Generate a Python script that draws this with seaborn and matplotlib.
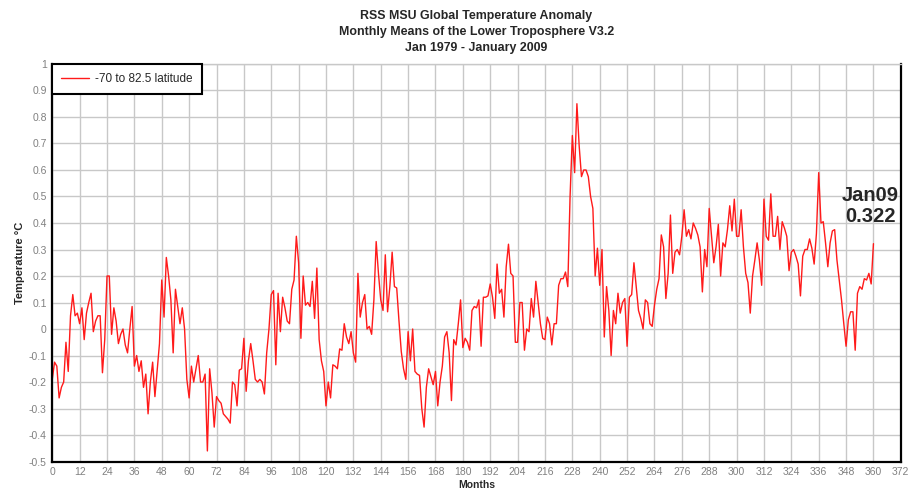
import numpy as np
import pandas as pd
import matplotlib
matplotlib.use('Agg')
from matplotlib import pyplot as plt
import seaborn as sns

sns.set_style('white', {'axes.grid': True})
plt.rcParams['font.family'] = ['Liberation Sans', 'DejaVu Sans']

# monthly anomalies (deg C), Jan 1979 .. Jan 2009, one row per year
t1979 = [-0.19, -0.125, -0.14, -0.26, -0.22, -0.2, -0.05, -0.16, 0.05, 0.13, 0.05, 0.06]
t1980 = [0.02, 0.08, -0.04, 0.06, 0.10, 0.135, -0.01, 0.03, 0.05, 0.05, -0.165, -0.04]
t1981 = [0.2, 0.2, -0.02, 0.08, 0.03, -0.055, -0.02, 0.0, -0.06, -0.09, 0.0, 0.085]
t1982 = [-0.14, -0.1, -0.16, -0.12, -0.22, -0.17, -0.32, -0.2, -0.125, -0.255, -0.155, -0.055]
t1983 = [0.185, 0.045, 0.27, 0.2, 0.11, -0.09, 0.15, 0.085, 0.02, 0.08, 0.0, -0.19]
t1984 = [-0.26, -0.14, -0.2, -0.15, -0.1, -0.2, -0.2, -0.17, -0.46, -0.15, -0.24, -0.37]
t1985 = [-0.255, -0.27, -0.28, -0.32, -0.33, -0.34, -0.355, -0.2, -0.21, -0.29, -0.155, -0.15]
t1986 = [-0.035, -0.235, -0.12, -0.055, -0.12, -0.19, -0.2, -0.19, -0.2, -0.245, -0.09, 0.0]
t1987 = [0.13, 0.145, -0.135, 0.135, -0.01, 0.12, 0.08, 0.03, 0.02, 0.15, 0.185, 0.35]
t1988 = [0.25, -0.035, 0.2, 0.09, 0.1, 0.085, 0.18, 0.04, 0.23, -0.04, -0.12, -0.16]
t1989 = [-0.29, -0.2, -0.26, -0.135, -0.14, -0.15, -0.075, -0.08, 0.02, -0.03, -0.055, -0.01]
t1990 = [-0.09, -0.125, 0.21, 0.045, 0.1, 0.13, 0.0, 0.01, -0.02, 0.11, 0.33, 0.21]
t1991 = [0.11, 0.07, 0.28, 0.065, 0.16, 0.29, 0.16, 0.155, 0.03, -0.085, -0.15, -0.19]
t1992 = [-0.01, -0.12, 0.0, -0.16, -0.17, -0.175, -0.3, -0.37, -0.22, -0.15, -0.18, -0.21]
t1993 = [-0.16, -0.29, -0.2, -0.14, -0.03, -0.01, -0.09, -0.27, -0.04, -0.06, 0.02, 0.11]
t1994 = [-0.07, -0.035, -0.05, -0.08, 0.07, 0.085, 0.08, 0.11, -0.065, 0.12, 0.12, 0.125]
t1995 = [0.17, 0.12, 0.04, 0.245, 0.135, 0.15, 0.045, 0.235, 0.32, 0.21, 0.2, -0.05]
t1996 = [-0.05, 0.1, 0.1, -0.08, 0.0, -0.01, 0.115, 0.045, 0.18, 0.1, 0.02, -0.035]
t1997 = [-0.04, 0.045, 0.02, -0.06, 0.02, 0.02, 0.165, 0.19, 0.19, 0.215, 0.16, 0.5]
t1998 = [0.73, 0.59, 0.85, 0.69, 0.575, 0.6, 0.6, 0.575, 0.5, 0.455, 0.2, 0.305]
t1999 = [0.165, 0.3, -0.03, 0.16, 0.07, -0.1, 0.07, 0.02, 0.135, 0.06, 0.1, 0.115]
t2000 = [-0.065, 0.12, 0.13, 0.25, 0.16, 0.07, 0.04, 0.0, 0.11, 0.1, 0.02, 0.01]
t2001 = [0.09, 0.15, 0.19, 0.355, 0.31, 0.115, 0.21, 0.43, 0.21, 0.29, 0.3, 0.28]
t2002 = [0.35, 0.45, 0.35, 0.375, 0.34, 0.4, 0.38, 0.355, 0.31, 0.14, 0.3, 0.235]
t2003 = [0.455, 0.35, 0.25, 0.31, 0.395, 0.2, 0.325, 0.31, 0.375, 0.465, 0.37, 0.49]
t2004 = [0.35, 0.35, 0.45, 0.31, 0.21, 0.175, 0.06, 0.2, 0.26, 0.325, 0.26, 0.165]
t2005 = [0.49, 0.35, 0.335, 0.51, 0.35, 0.35, 0.425, 0.3, 0.405, 0.38, 0.35, 0.22]
t2006 = [0.29, 0.3, 0.275, 0.245, 0.125, 0.275, 0.3, 0.3, 0.34, 0.305, 0.245, 0.36]
t2007 = [0.59, 0.4, 0.405, 0.325, 0.235, 0.325, 0.37, 0.375, 0.26, 0.185, 0.11, 0.02]
t2008 = [-0.065, 0.035, 0.065, 0.065, -0.08, 0.135, 0.16, 0.15, 0.19, 0.185, 0.21, 0.17]
t2009 = [0.322]

years = [t1979, t1980, t1981, t1982, t1983, t1984, t1985, t1986, t1987, t1988,
         t1989, t1990, t1991, t1992, t1993, t1994, t1995, t1996, t1997, t1998,
         t1999, t2000, t2001, t2002, t2003, t2004, t2005, t2006, t2007, t2008, t2009]
temps = [v for yr in years for v in yr]

x_ticks = list(range(0, 373, 12))
y_ticks = [-0.5, -0.4, -0.3, -0.2, -0.1, 0, 0.1, 0.2, 0.3, 0.4, 0.5, 0.6, 0.7, 0.8, 0.9, 1]
y_labels = ['-0.5', '-0.4', '-0.3', '-0.2', '-0.1', '0', '0.1', '0.2', '0.3', '0.4', '0.5',
            '0.6', '0.7', '0.8', '0.9', '1']
series_name = '-70 to 82.5 latitude'
title = 'RSS MSU Global Temperature Anomaly\nMonthly Means of the Lower Troposphere V3.2\nJan 1979 - January 2009'
last_note = 'Jan09\n0.322'

df = pd.DataFrame({'Months': np.arange(len(temps)), 'Temperature': temps})

fig = plt.figure(figsize=(9.09, 4.91), dpi=100)
ax = fig.add_axes([0.0575, 0.060, 0.9335, 0.8097])

sns.lineplot(data=df, x='Months', y='Temperature', color='#ff1a1a', linewidth=1.0,
             label=series_name, ax=ax)

ax.set_xlim(0, 372)
ax.set_ylim(-0.5, 1.0)
ax.set_xticks(x_ticks)
ax.set_yticks(y_ticks)
ax.set_yticklabels(y_labels)
ax.grid(True, color='#c8c8c8', linewidth=1.0)
ax.tick_params(axis='both', length=0, labelsize=7.5, labelcolor='#808080', pad=4)

for side in ['left', 'bottom', 'right']:
    ax.spines[side].set_color('black')
    ax.spines[side].set_linewidth(1.6)
ax.spines['top'].set_color('#c8c8c8')
ax.spines['top'].set_linewidth(1.0)

ax.set_xlabel('Months', fontsize=7.5, fontweight='bold', labelpad=2)
ax.set_ylabel('Temperature °C', fontsize=8, fontweight='bold', labelpad=3)

leg = ax.legend(loc='upper left', fontsize=8.5, frameon=True, fancybox=False,
                framealpha=1, edgecolor='black', borderaxespad=0, handlelength=2.4,
                borderpad=0.75, handletextpad=0.5)
leg.get_frame().set_linewidth(1.5)

ax.text(371, 0.463, last_note, ha='right', va='center', multialignment='center',
        fontsize=14.5, fontweight='bold', linespacing=1.15)

fig.text(0.524, 1 - 32 / 491, title, ha='center', va='center', fontsize=8.9,
         fontweight='bold', linespacing=1.4)

fig.savefig('out.png', dpi=100)
